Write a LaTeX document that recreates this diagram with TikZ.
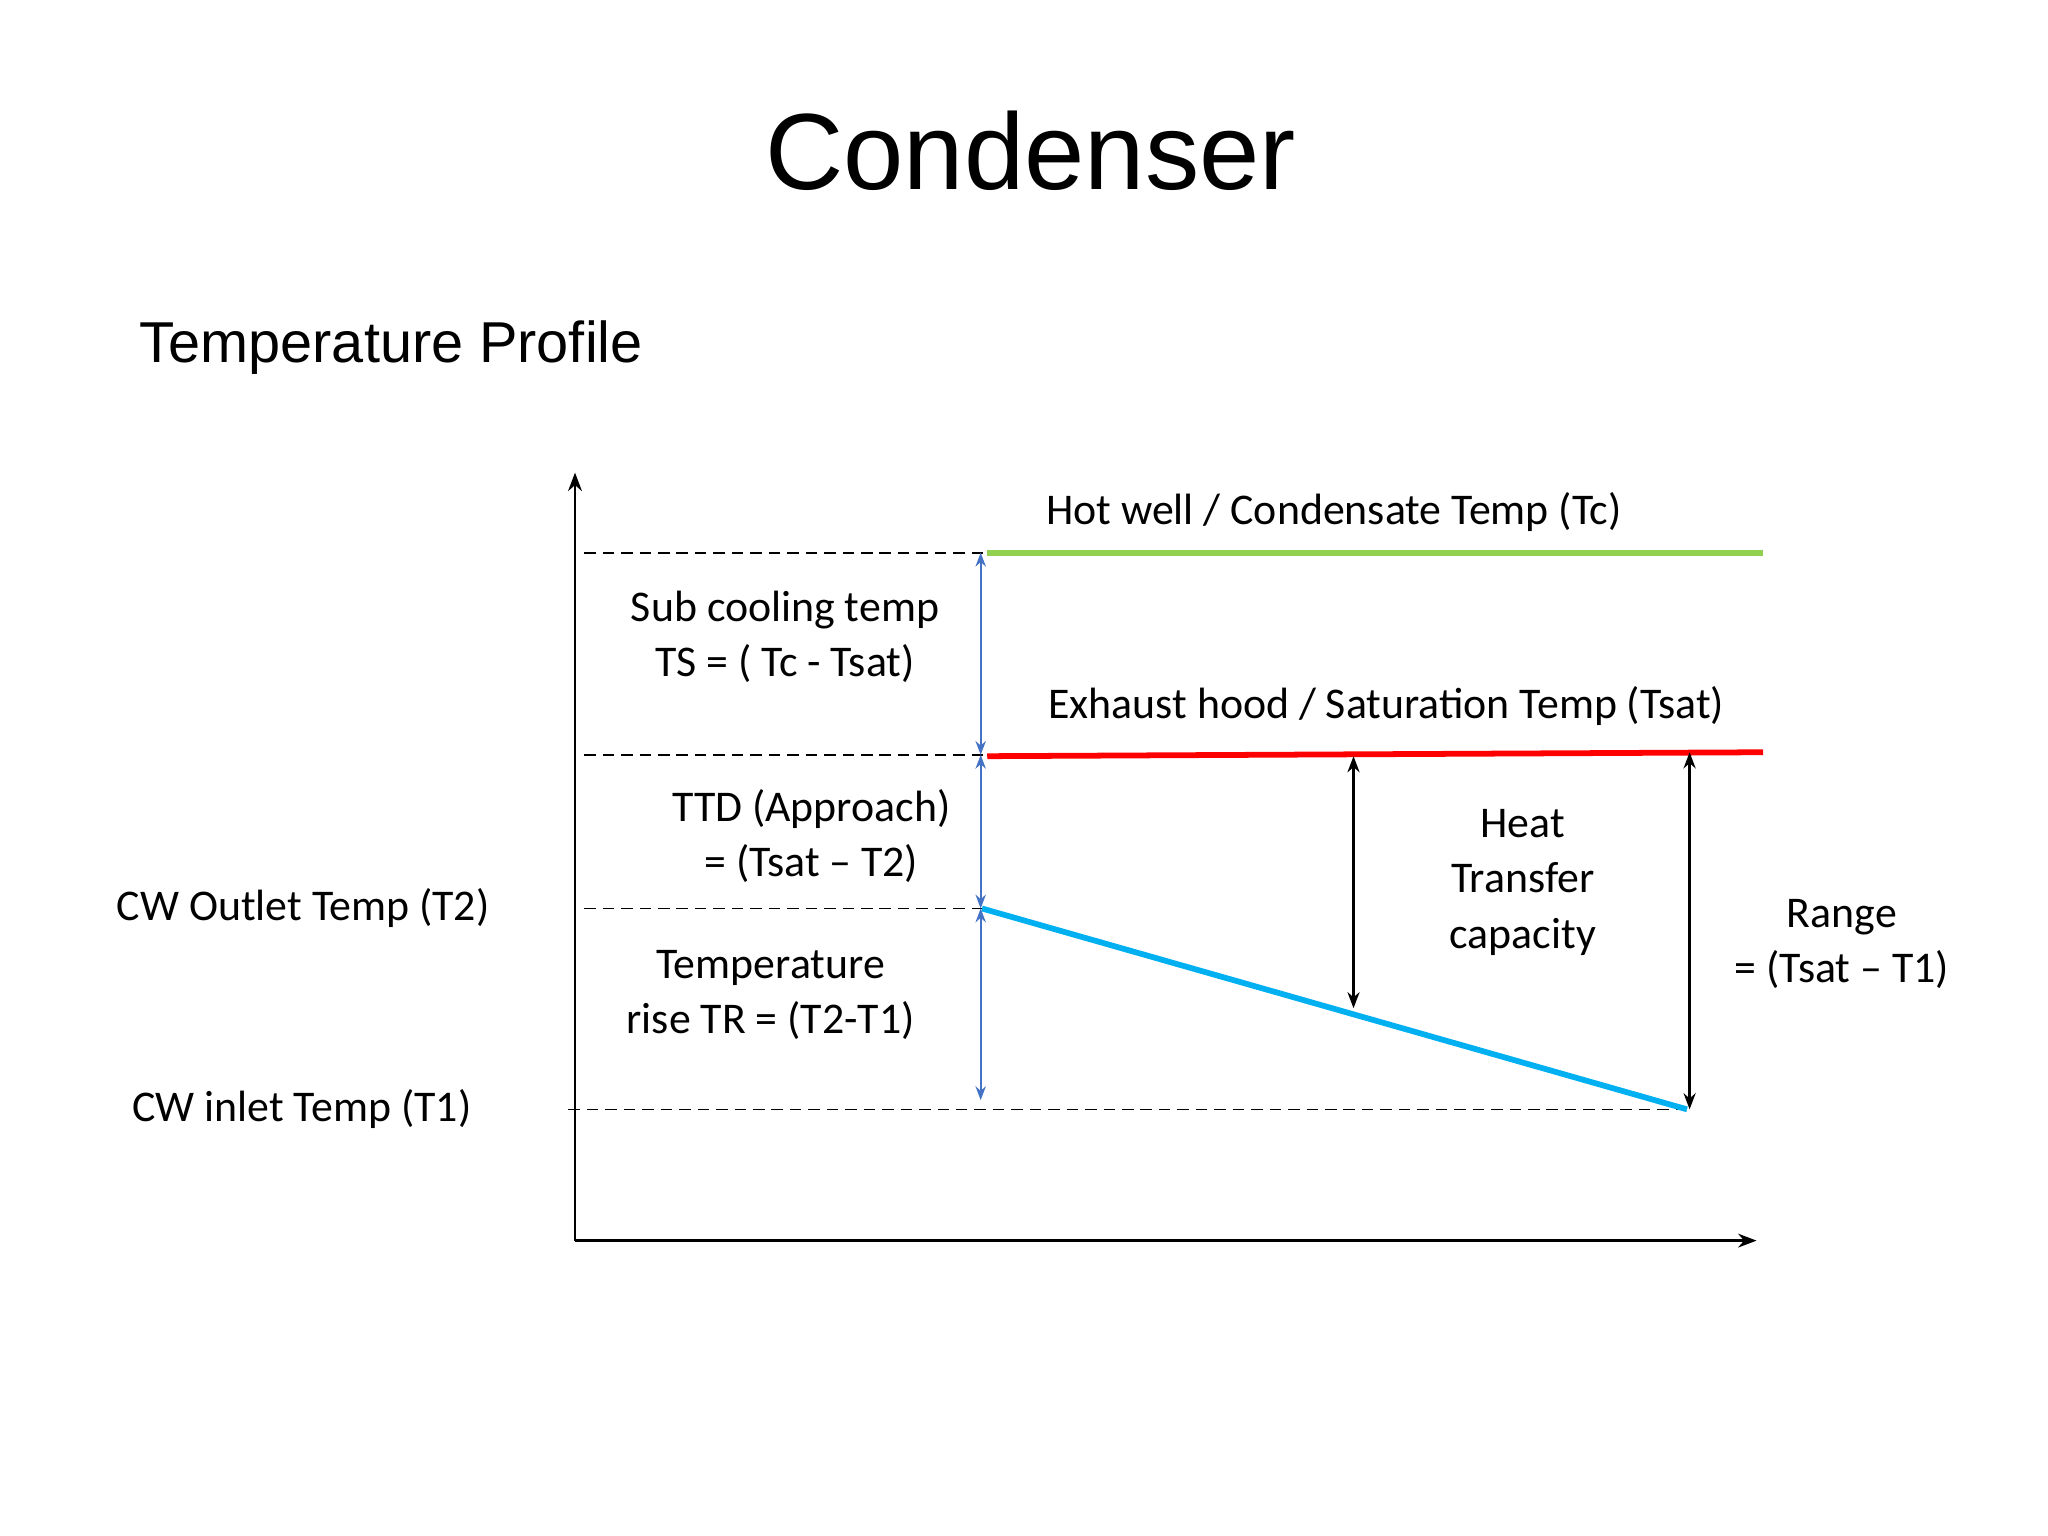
\documentclass[tikz,border=0pt]{standalone}
\usepackage{fontspec}
\setmainfont{Carlito}
\newfontfamily\arialf{Liberation Sans}
\usetikzlibrary{arrows.meta}
\definecolor{cwblue}{RGB}{0,176,240}
\definecolor{arblue}{RGB}{68,114,196}
\definecolor{hotgreen}{RGB}{146,208,80}
\begin{document}
\begin{tikzpicture}[x=0.02cm,y=-0.02cm,
  lbl/.style={font=\fontsize{19}{24}\selectfont,align=center,inner sep=0},
  dsh/.style={dash pattern=on 5pt off 3pt,line width=0.7pt},
  barr/.style={arblue,line width=0.8pt,{Stealth[length=6pt]}-{Stealth[length=6pt]}},
  karr/.style={black,line width=1pt,{Stealth[length=7pt]}-{Stealth[length=7pt]}}]
\useasboundingbox (0,0) rectangle (1560,1170);
\coordinate (o) at (438,945);
\coordinate (ytop) at (438,360);
\coordinate (xend) at (1338,945);
\draw[line width=1pt,-{Stealth[length=8pt]}] (o) -- (ytop);
\draw[line width=1pt,-{Stealth[length=8pt]}] (o) -- (xend);
\coordinate (a1) at (445,421); \coordinate (a2) at (752,421);
\coordinate (b1) at (445,575); \coordinate (b2) at (752,575);
\coordinate (c1) at (445,692); \coordinate (c2) at (752,692);
\coordinate (d1) at (433,845); \coordinate (d2) at (1285,845);
\draw[dsh] (a1)--(a2); \draw[dsh] (b1)--(b2); \draw[dsh] (c1)--(c2); \draw[dsh] (d1)--(d2);
\coordinate (g2) at (1343,421);
\draw[hotgreen,line width=2.5pt] (a2)--(g2);
\coordinate (r1) at (752,576); \coordinate (r2) at (1343,573);
\draw[red,line width=2.5pt] (r1)--(r2);
\coordinate (w1) at (748,692); \coordinate (w2) at (1285,845);
\draw[cwblue,line width=2.5pt] (w1)--(w2);
\coordinate (v1) at (747,421); \coordinate (v2) at (747,575);
\coordinate (v3) at (747,692); \coordinate (v4) at (747,838);
\draw[barr] (v1)--(v2); \draw[barr] (v2)--(v3); \draw[barr] (v3)--(v4);
\coordinate (h1) at (1031,576); \coordinate (h2) at (1031,768);
\coordinate (k1) at (1287,573); \coordinate (k2) at (1287,845);
\draw[karr] (h1)--(h2); \draw[karr] (k1)--(k2);
\node (title) at (785,115) {\arialf\fontsize{47}{50}\selectfont Condenser};
\node (sub) at (298,265) {\arialf\fontsize{25}{28}\selectfont Temperature Profile};
\node[lbl] (tc) at (1016,390) {Hot well / Condensate Temp (Tc)};
\node[lbl] (ts) at (598,485) {Sub cooling temp\\TS = ( Tc - Tsat)};
\node[lbl] (tsat) at (1056,538) {Exhaust hood / Saturation Temp (Tsat)};
\node[lbl] (ttd) at (618,637) {TTD (Approach)\\= (Tsat – T2)};
\node[lbl] (htc) at (1160,672) {Heat\\Transfer\\capacity};
\node[lbl] (rng) at (1403,719) {Range\\= (Tsat – T1)};
\node[lbl] (tr) at (587,758) {Temperature\\rise TR = (T2-T1)};
\node[lbl] (t2) at (231,692) {CW Outlet Temp (T2)};
\node[lbl] (t1) at (230,845) {CW inlet Temp (T1)};
\end{tikzpicture}
\end{document}
